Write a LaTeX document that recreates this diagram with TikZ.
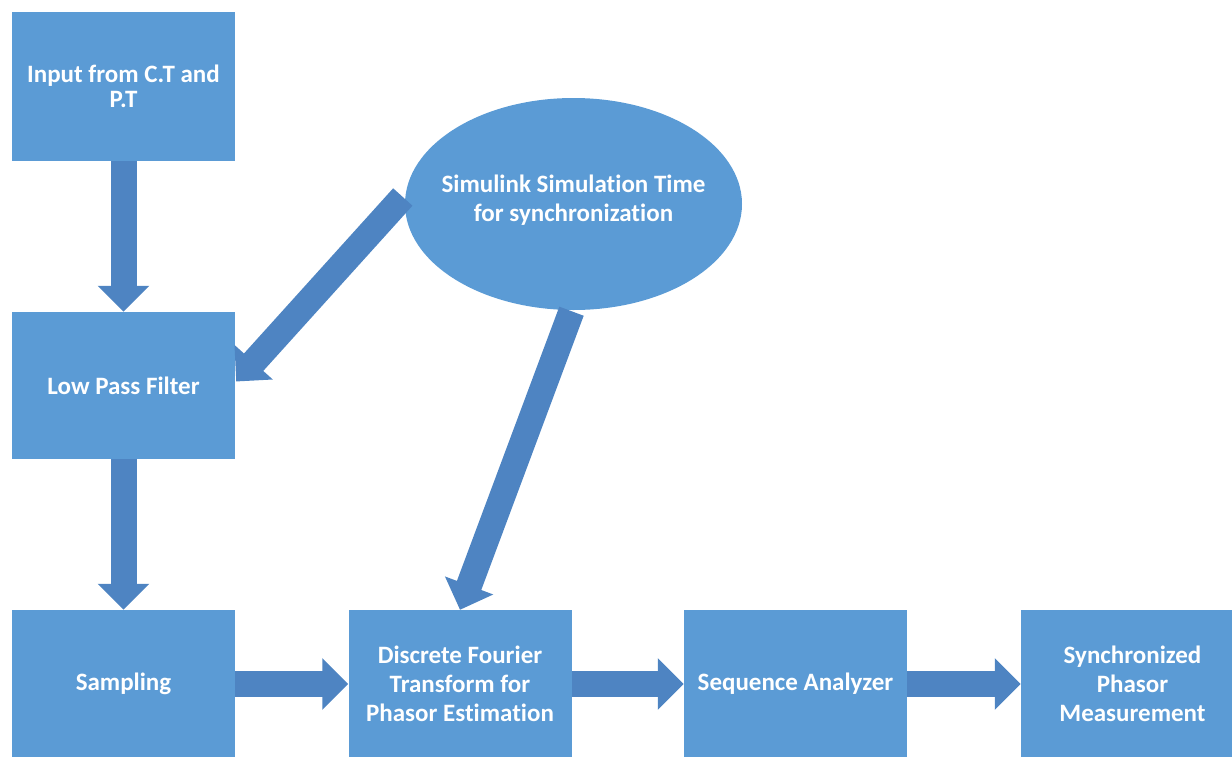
\documentclass[tikz,border=0pt]{standalone}
\usepackage{fontspec}
\setmainfont[Ligatures=NoCommon]{Carlito}
\usetikzlibrary{shapes.geometric,arrows.meta}
\definecolor{boxblue}{RGB}{91,155,213}
\definecolor{arrowblue}{RGB}{78,132,194}
\tikzset{
  stagefont/.style={font=\bfseries\fontsize{25}{29}\selectfont},
  stage/.style={rectangle, fill=boxblue, draw=none, minimum width=223pt,
    text=white, stagefont, align=center, inner sep=0pt},
  blob/.style={ellipse, fill=boxblue, draw=none, minimum width=337pt,
    minimum height=212pt, inner sep=0pt},
  flow/.style={draw=arrowblue, line width=26pt, line cap=butt,
    -{Triangle[width=50pt,length=26pt]}, arrowblue}
}
\begin{document}
\begin{tikzpicture}[x=1pt,y=-1pt]
  \useasboundingbox (0,0) rectangle (1232,756);
  % processing stages
  \node[stage, minimum height=149pt, font=\bfseries\fontsize{25}{25}\selectfont]
    (in) at (123.5,86.5) {Input from C.T and\\P.T};
  \node[stage, minimum height=147pt] (lpf)  at (123.5,385.5) {Low Pass Filter};
  \node[stage, minimum height=148pt] (samp) at (123.5,684) {Sampling};
  \node[stage, minimum height=148pt] (dft)  at (460,684)
    {Discrete Fourier\\Transform for\\Phasor Estimation};
  \node[stage, minimum height=148pt] (seq)  at (795.5,684) {Sequence Analyzer};
  \node[stage, minimum height=148pt] (sync) at (1132.5,684)
    {Synchronized\\Phasor\\Measurement};
  % time reference
  \node[blob] (sim) at (573.5,204) {};
  \node[text=white, stagefont, align=center, inner sep=0pt] (simtxt)
    at ([yshift=4]sim.center) {Simulink Simulation Time\\for synchronization};
  % signal flow
  \draw[flow] (in.south) -- (lpf.north);
  \draw[flow] (lpf.south) -- (samp.north);
  \draw[flow] (samp.east) -- (dft.west);
  \draw[flow] (dft.east) -- (seq.west);
  \draw[flow] (seq.east) -- (sync.west);
  \draw[flow] ([shift={(-2,-7)}]sim.west) -- ([shift={(1,-4)}]lpf.east);
  \draw[flow] ([shift={(-2,1)}]sim.south) -- (dft.north);
\end{tikzpicture}
\end{document}
